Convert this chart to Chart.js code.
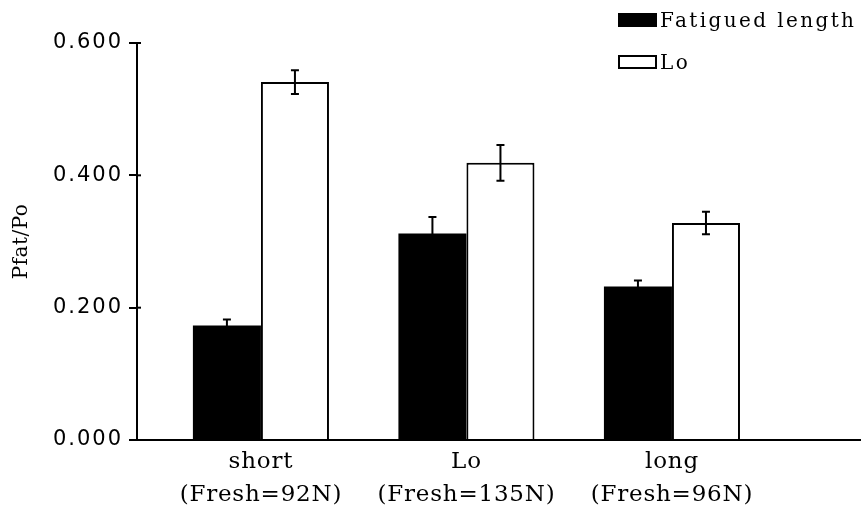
<!DOCTYPE html>
<html>
<head>
<meta charset="utf-8">
<script src="https://cdn.jsdelivr.net/npm/chart.js@4/dist/chart.umd.min.js"></script>
<style>
  html, body { margin: 0; padding: 0; background: #fff; }
  #wrap { position: relative; width: 864px; height: 515px; }
  #chart { position: absolute; left: 0; top: 0; }
  .legend-item { position: absolute; display: flex; align-items: center; height: 20px;
    font-family: "DejaVu Serif", serif; font-size: 20px; letter-spacing: 2.4px; color: #000; }
  .legend-box { box-sizing: border-box; width: 39px; height: 14px; margin-right: 3px; border: 2px solid #000; }
</style>
</head>
<body>
<div id="wrap">
  <canvas id="chart" width="864" height="515"></canvas>
  <div id="legend"></div>
</div>
<script>
// Muscle condition groups (x positions 1..3) and their two-line labels
const groupPositions = [1, 2, 3];
const groupLabels = [
  ['short', '(Fresh=92N)'],
  ['Lo', '(Fresh=135N)'],
  ['long', '(Fresh=96N)']
];

// Pfat/Po at the fatigued length and at Lo
const fatiguedValues = [0.173, 0.312, 0.232];
const fatiguedErrors = [0.009, 0.025, 0.009];
const loValues = [0.541, 0.419, 0.328];
const loErrors = [0.018, 0.027, 0.017];

const seriesNames = ['Fatigued length', 'Lo'];
const yTicks = [0, 0.2, 0.4, 0.6];

const toPoints = vals => vals.map((v, i) => ({ x: groupPositions[i], y: v }));

// Wide, typewriter-like lettering: spacing chosen per font size
const canvas = document.getElementById('chart');
const ctx2d = canvas.getContext('2d');
const spacingBySize = { '21px': '2px', '23px': '0.8px', '20px': '0.5px' };
const nativeFillText = ctx2d.fillText.bind(ctx2d);
ctx2d.fillText = function (text, x, y, maxWidth) {
  const m = /(\d+)px/.exec(ctx2d.font);
  ctx2d.letterSpacing = (m && spacingBySize[m[1] + 'px']) || '0px';
  return maxWidth === undefined ? nativeFillText(text, x, y) : nativeFillText(text, x, y, maxWidth);
};

// Error bars and the inner half of the y tick marks
const errorBarPlugin = {
  id: 'errorBars',
  afterDatasetsDraw(chart) {
    const ctx = chart.ctx;
    const yScale = chart.scales.y;
    ctx.save();
    ctx.strokeStyle = '#000';
    ctx.lineWidth = 2;
    chart.data.datasets.forEach((ds, di) => {
      const meta = chart.getDatasetMeta(di);
      meta.data.forEach((bar, i) => {
        const v = ds.data[i].y;
        const e = ds.errors[i];
        const yTop = yScale.getPixelForValue(v + e);
        const yBot = yScale.getPixelForValue(v - e);
        const x = bar.x;
        ctx.beginPath();
        ctx.moveTo(x, yTop); ctx.lineTo(x, yBot);
        ctx.moveTo(x - 4, yTop); ctx.lineTo(x + 4, yTop);
        ctx.moveTo(x - 4, yBot); ctx.lineTo(x + 4, yBot);
        ctx.stroke();
      });
    });
    // ticks cross the axis line slightly
    const left = chart.chartArea.left;
    yTicks.forEach(t => {
      const y = yScale.getPixelForValue(t);
      ctx.beginPath();
      ctx.moveTo(left, y); ctx.lineTo(left + 4, y);
      ctx.stroke();
    });
    ctx.restore();
  }
};

const datasets = [
  {
    label: seriesNames[0],
    data: toPoints(fatiguedValues),
    errors: fatiguedErrors,
    backgroundColor: '#000',
    borderColor: '#000',
    borderWidth: 0
  },
  {
    label: seriesNames[1],
    data: toPoints(loValues),
    errors: loErrors,
    backgroundColor: '#fff',
    borderColor: '#000',
    borderWidth: 2
  }
];

const chart = new Chart(canvas, {
  type: 'bar',
  data: { datasets },
  plugins: [errorBarPlugin],
  options: {
    responsive: false,
    animation: false,
    devicePixelRatio: 1,
    layout: { padding: { top: 43, right: 4, left: 0, bottom: 0 } },
    plugins: { legend: { display: false }, tooltip: { enabled: false } },
    datasets: { bar: { barPercentage: 1.0, categoryPercentage: 0.662, borderSkipped: 'bottom' } },
    scales: {
      x: {
        type: 'linear',
        offset: false,
        min: 0.397,
        max: 3.915,
        afterBuildTicks(scale) { scale.ticks = groupPositions.map(v => ({ value: v })); },
        afterFit(scale) { scale.height = 75; },
        grid: { display: false, drawTicks: false, tickLength: 0, offset: false },
        border: { display: true, color: '#000', width: 2 },
        ticks: {
          color: '#000',
          padding: 6,
          maxRotation: 0,
          autoSkip: false,
          font: { family: '"DejaVu Serif", serif', size: 23, lineHeight: 1.435 },
          callback: (value) => groupLabels[groupPositions.indexOf(value)] || ''
        }
      },
      y: {
        min: 0,
        max: 0.6,
        afterBuildTicks(scale) { scale.ticks = yTicks.map(v => ({ value: v })); },
        afterFit(scale) { scale.width = 137; },
        grid: { drawOnChartArea: false, color: '#000', lineWidth: 2, tickLength: 8 },
        border: { display: true, color: '#000', width: 2 },
        ticks: {
          color: '#000',
          padding: 6,
          font: { family: '"DejaVu Sans", sans-serif', size: 21 },
          callback: (value) => value.toFixed(3)
        },
        title: {
          display: true,
          text: 'Pfat/Po',
          color: '#000',
          padding: { top: 10, bottom: 0 },
          font: { family: '"DejaVu Serif", serif', size: 20 }
        }
      }
    }
  }
});

// Legend drawn as HTML above the plot's top-right corner
const legendEl = document.getElementById('legend');
const legendRows = [{ top: 10 }, { top: 52 }];
datasets.forEach((ds, i) => {
  const item = document.createElement('div');
  item.className = 'legend-item';
  item.style.left = '618px';
  item.style.top = legendRows[i].top + 'px';
  const box = document.createElement('span');
  box.className = 'legend-box';
  box.style.background = ds.backgroundColor;
  const txt = document.createElement('span');
  txt.textContent = ds.label;
  item.appendChild(box);
  item.appendChild(txt);
  legendEl.appendChild(item);
});
</script>
</body>
</html>
